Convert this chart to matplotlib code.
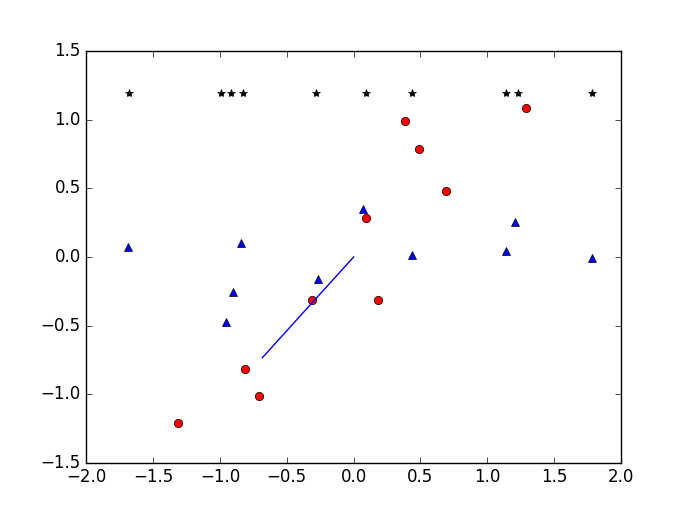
import matplotlib
matplotlib.use('Agg')
import matplotlib.pyplot as plt

plt.style.use('classic')

# black stars along the top
star_x = [-1.68, -0.994, -0.917, -0.829, -0.281, 0.096, 0.438, 1.141, 1.226, 1.783]
star_y = [1.2] * len(star_x)

# blue triangles
tri_x = [-1.691, -0.957, -0.900, -0.842, -0.266, 0.069, 0.438, 1.141, 1.207, 1.783]
tri_y = [0.071, -0.474, -0.253, 0.105, -0.160, 0.351, 0.013, 0.046, 0.258, -0.009]

# red circles
dot_x = [-1.314, -0.814, -0.710, -0.313, 0.091, 0.186, 0.385, 0.488, 0.690, 1.291]
dot_y = [-1.212, -0.816, -1.013, -0.311, 0.287, -0.314, 0.989, 0.791, 0.485, 1.084]

# blue segment from origin
seg_x = [0.0, -0.683]
seg_y = [0.0, -0.735]

fig = plt.figure(figsize=(6.9, 5.14), dpi=100)
ax = fig.add_subplot(111)
ax.plot(star_x, star_y, 'k*')
ax.plot(tri_x, tri_y, 'b^')
ax.plot(dot_x, dot_y, 'ro')
ax.plot(seg_x, seg_y, 'b-')
ax.set_xlim(-2, 2)
ax.set_ylim(-1.5, 1.5)

fig.savefig('out.png', dpi=100)
